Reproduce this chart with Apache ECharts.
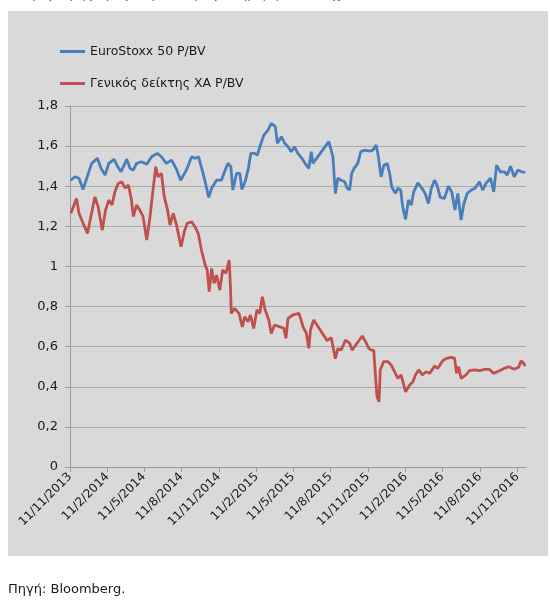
<!DOCTYPE html>
<html lang="el">

<head>
  <meta charset="UTF-8">
  <title>P/BV</title>
  <style>
    * {
      margin: 0;
      padding: 0;
    }
    body {
      width: 550px;
      height: 601px;
      background-color: #ffffff;
    }
    #main {
      width: 550px;
      height: 601px;
    }
  </style>
</head>

<body>
  <div id="main"></div>
  <script src="https://cdn.jsdelivr.net/npm/echarts@6/dist/echarts.min.js"></script>
  <script>
    // EuroStoxx 50 P/BV
    var euroDates = ['2013-11-13', '2013-11-23', '2013-12-03', '2013-12-13', '2013-12-22', '2014-01-03', '2014-01-17', '2014-01-26',
      '2014-02-05', '2014-02-14', '2014-02-27', '2014-03-08', '2014-03-16', '2014-03-30', '2014-04-07', '2014-04-15', '2014-04-23',
      '2014-05-05', '2014-05-18', '2014-05-30', '2014-06-13', '2014-06-23', '2014-07-05', '2014-07-18', '2014-07-30', '2014-08-09',
      '2014-08-23', '2014-09-05', '2014-09-14', '2014-09-22', '2014-10-03', '2014-10-11', '2014-10-17', '2014-10-24', '2014-11-05',
      '2014-11-17', '2014-11-25', '2014-12-03', '2014-12-10', '2014-12-15', '2014-12-24', '2015-01-01', '2015-01-06', '2015-01-15',
      '2015-01-21', '2015-01-28', '2015-02-06', '2015-02-13', '2015-02-19', '2015-03-01', '2015-03-11', '2015-03-19', '2015-03-29',
      '2015-04-03', '2015-04-13', '2015-04-21', '2015-04-29', '2015-05-07', '2015-05-15', '2015-05-23', '2015-06-02', '2015-06-13',
      '2015-06-19', '2015-06-25', '2015-06-29', '2015-08-07', '2015-08-11', '2015-08-17', '2015-08-23', '2015-08-29', '2015-09-06',
      '2015-09-15', '2015-09-21', '2015-09-27', '2015-10-02', '2015-10-08', '2015-10-17', '2015-10-24', '2015-11-03', '2015-11-15',
      '2015-11-23', '2015-12-01', '2015-12-07', '2015-12-13', '2015-12-20', '2015-12-28', '2016-01-03', '2016-01-08', '2016-01-17',
      '2016-01-23', '2016-01-30', '2016-02-04', '2016-02-11', '2016-02-18', '2016-02-25', '2016-03-02', '2016-03-12', '2016-03-22',
      '2016-03-30', '2016-04-07', '2016-04-14', '2016-04-22', '2016-04-28', '2016-05-06', '2016-05-16', '2016-05-26', '2016-06-03',
      '2016-06-11', '2016-06-18', '2016-06-26', '2016-07-03', '2016-07-11', '2016-07-21', '2016-07-30', '2016-08-10', '2016-08-18',
      '2016-08-26', '2016-09-06', '2016-09-14', '2016-09-21', '2016-09-30', '2016-10-10', '2016-10-17', '2016-10-25', '2016-11-03',
      '2016-11-12', '2016-11-22', '2016-11-30'];
    var euroPbv = [1.43, 1.447, 1.44, 1.384, 1.44, 1.514, 1.539, 1.489,
      1.456, 1.514, 1.534, 1.497, 1.472, 1.534, 1.489, 1.48, 1.514,
      1.522, 1.51, 1.547, 1.564, 1.547, 1.514, 1.53, 1.484, 1.43,
      1.48, 1.547, 1.539, 1.547, 1.464, 1.397, 1.344, 1.39, 1.43,
      1.43, 1.475, 1.514, 1.497, 1.381, 1.464, 1.464, 1.384, 1.43,
      1.48, 1.564, 1.564, 1.555, 1.597, 1.655, 1.68, 1.713, 1.697,
      1.614, 1.647, 1.614, 1.597, 1.572, 1.597, 1.564, 1.539, 1.505,
      1.489, 1.572, 1.514, 1.622, 1.622, 1.547, 1.364, 1.44, 1.43,
      1.422, 1.39, 1.381, 1.464, 1.489, 1.514, 1.572, 1.58, 1.575,
      1.58, 1.605, 1.539, 1.447, 1.505, 1.514, 1.464, 1.397, 1.364,
      1.39, 1.381, 1.297, 1.235, 1.331, 1.306, 1.372, 1.417, 1.39,
      1.364, 1.314, 1.39, 1.43, 1.406, 1.344, 1.339, 1.40, 1.372,
      1.281, 1.364, 1.231, 1.314, 1.364, 1.381, 1.39, 1.422, 1.381,
      1.414, 1.44, 1.372, 1.505, 1.472, 1.472, 1.456, 1.50, 1.447,
      1.48, 1.472, 1.467];

    // Γενικός δείκτης ΧΑ P/BV
    var athexDates = ['2013-11-13', '2013-11-19', '2013-11-27', '2013-12-03', '2013-12-13', '2013-12-24', '2014-01-01', '2014-01-11',
      '2014-01-19', '2014-01-29', '2014-02-06', '2014-02-14', '2014-02-22', '2014-03-01', '2014-03-09', '2014-03-18', '2014-03-26',
      '2014-04-03', '2014-04-10', '2014-04-15', '2014-04-23', '2014-05-01', '2014-05-09', '2014-05-18', '2014-05-26', '2014-05-31',
      '2014-06-09', '2014-06-15', '2014-06-23', '2014-06-30', '2014-07-08', '2014-07-14', '2014-07-22', '2014-07-30', '2014-08-10',
      '2014-08-18', '2014-08-25', '2014-09-05', '2014-09-13', '2014-09-21', '2014-09-29', '2014-10-07', '2014-10-13', '2014-10-18',
      '2014-10-24', '2014-10-30', '2014-11-05', '2014-11-13', '2014-11-20', '2014-11-28', '2014-12-06', '2014-12-09', '2014-12-11',
      '2014-12-19', '2014-12-30', '2015-01-07', '2015-01-13', '2015-01-21', '2015-01-27', '2015-02-04', '2015-02-12', '2015-02-19',
      '2015-02-25', '2015-03-04', '2015-03-13', '2015-03-19', '2015-03-27', '2015-04-09', '2015-04-19', '2015-04-24', '2015-04-29',
      '2015-05-11', '2015-05-26', '2015-06-05', '2015-06-13', '2015-06-19', '2015-06-23', '2015-07-01', '2015-08-03', '2015-08-13',
      '2015-08-23', '2015-08-29', '2015-09-06', '2015-09-17', '2015-09-27', '2015-10-03', '2015-10-15', '2015-10-28', '2015-11-05',
      '2015-11-13', '2015-11-19', '2015-11-25', '2015-11-30', '2015-12-03', '2015-12-08', '2015-12-11', '2015-12-19', '2015-12-30',
      '2016-01-07', '2016-01-15', '2016-01-23', '2016-01-31', '2016-02-11', '2016-02-21', '2016-02-29', '2016-03-06', '2016-03-14',
      '2016-03-23', '2016-04-01', '2016-04-10', '2016-04-22', '2016-04-30', '2016-05-12', '2016-05-21', '2016-06-02', '2016-06-10',
      '2016-06-15', '2016-06-20', '2016-06-26', '2016-07-08', '2016-07-16', '2016-07-29', '2016-08-10', '2016-08-22', '2016-09-03',
      '2016-09-13', '2016-09-28', '2016-10-10', '2016-10-21', '2016-11-03', '2016-11-14', '2016-11-20', '2016-11-26', '2016-11-30'];
    var athexPbv = [1.265, 1.297, 1.339, 1.265, 1.215, 1.165, 1.248, 1.347,
      1.297, 1.181, 1.281, 1.331, 1.306, 1.372, 1.414, 1.422, 1.39,
      1.406, 1.339, 1.248, 1.306, 1.281, 1.248, 1.132, 1.248, 1.339,
      1.497, 1.447, 1.464, 1.347, 1.281, 1.206, 1.265, 1.206, 1.098,
      1.173, 1.215, 1.223, 1.198, 1.165, 1.082, 1.015, 0.982, 0.874,
      0.99, 0.916, 0.957, 0.882, 0.982, 0.966, 1.032, 0.899, 0.766,
      0.791, 0.766, 0.699, 0.749, 0.724, 0.758, 0.691, 0.783, 0.766,
      0.849, 0.783, 0.733, 0.666, 0.708, 0.699, 0.691, 0.642, 0.741,
      0.758, 0.766, 0.699, 0.666, 0.592, 0.683, 0.733, 0.63, 0.645,
      0.54, 0.59, 0.583, 0.633, 0.617, 0.583, 0.617, 0.653, 0.625,
      0.592, 0.583, 0.583, 0.434, 0.35, 0.326, 0.484, 0.525, 0.525,
      0.508, 0.475, 0.442, 0.459, 0.375, 0.409, 0.425, 0.459, 0.484,
      0.459, 0.475, 0.467, 0.503, 0.492, 0.53, 0.542, 0.547, 0.542,
      0.467, 0.50, 0.442, 0.459, 0.48, 0.484, 0.48, 0.487, 0.487,
      0.467, 0.48, 0.492, 0.50, 0.487, 0.497, 0.53, 0.517, 0.503];

    // x tick labels (quarterly)
    var tickDates = ['2013-11-11', '2014-02-11', '2014-05-11', '2014-08-11', '2014-11-11', '2015-02-11', '2015-05-11',
      '2015-08-11', '2015-11-11', '2016-02-11', '2016-05-11', '2016-08-11', '2016-11-11'];

    var seriesNames = ['EuroStoxx 50 P/BV', 'Γενικός δείκτης ΧΑ P/BV'];

    function toTime(s) {
      var p = s.split('-');
      return new Date(+p[0], +p[1] - 1, +p[2]).getTime();
    }

    function zip(dates, values) {
      return dates.map(function (d, i) { return [toTime(d), values[i]]; });
    }

    var ticks = tickDates.map(toTime);
    var fontName = 'DejaVu Sans';

    var myChart = echarts.init(document.getElementById('main'));
    var option = {
      backgroundColor: '#ffffff',
      animation: false,
      graphic: [
        {
          type: 'rect',
          z: -10,
          shape: { x: 8, y: 11, width: 540, height: 545 },
          style: { fill: '#d9d9d9' }
        },
        {
          type: 'text',
          x: 8,
          y: -12,
          style: {
            text: '(Λόγος τιμής προς λογιστική αξία, ημερήσια στοιχεία)',
            fill: '#c0306a',
            font: '13px "DejaVu Sans"'
          }
        },
        {
          type: 'text',
          x: 8,
          y: 583,
          style: {
            text: 'Πηγή: Bloomberg.',
            fill: '#1a1a1a',
            font: '13px "DejaVu Sans"'
          }
        }
      ],
      legend: {
        orient: 'vertical',
        left: 55,
        top: 40,
        itemGap: 19,
        itemWidth: 25,
        itemHeight: 3,
        icon: 'rect',
        data: seriesNames,
        textStyle: { fontFamily: fontName, fontSize: 12.5, color: '#1a1a1a' }
      },
      grid: {
        left: 70,
        right: 24,
        top: 106,
        bottom: 134
      },
      xAxis: {
        type: 'value',
        min: toTime('2013-11-11'),
        max: toTime('2016-12-02'),
        axisLine: { lineStyle: { color: '#9a9a9a' } },
        axisTick: { show: true, length: 5, customValues: ticks, lineStyle: { color: '#9a9a9a' } },
        splitLine: { show: false },
        axisLabel: {
          customValues: ticks,
          rotate: 45,
          margin: 8,
          fontFamily: fontName,
          fontSize: 12,
          color: '#1a1a1a',
          showMinLabel: true,
          showMaxLabel: true,
          formatter: function (v) {
            var d = new Date(v);
            return d.getDate() + '/' + (d.getMonth() + 1) + '/' + d.getFullYear();
          }
        }
      },
      yAxis: {
        type: 'value',
        min: 0,
        max: 1.8,
        interval: 0.2,
        axisLine: { show: true, lineStyle: { color: '#9a9a9a' } },
        axisTick: { show: true, length: 5, lineStyle: { color: '#9a9a9a' } },
        splitLine: { lineStyle: { color: '#ababab' } },
        axisLabel: {
          margin: 12,
          fontFamily: fontName,
          fontSize: 13,
          color: '#1a1a1a',
          formatter: function (v) {
            return String(Math.round(v * 10) / 10).replace('.', ',');
          }
        }
      },
      series: [
        {
          name: seriesNames[0],
          type: 'line',
          showSymbol: false,
          color: '#4a7ebb',
          lineStyle: { width: 2.8 },
          data: zip(euroDates, euroPbv)
        },
        {
          name: seriesNames[1],
          type: 'line',
          showSymbol: false,
          color: '#c0504d',
          lineStyle: { width: 2.8 },
          data: zip(athexDates, athexPbv)
        }
      ]
    };
    myChart.setOption(option);
  </script>
</body>

</html>
